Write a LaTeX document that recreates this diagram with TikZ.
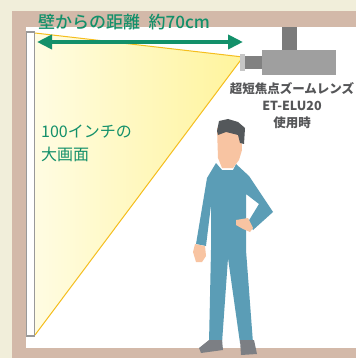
\documentclass[tikz,border=0pt]{standalone}
\usepackage{fontspec}
\usepackage{tikz}
\usetikzlibrary{positioning,arrows.meta}
\newfontfamily\jpfont{Noto Sans CJK JP}
\newfontfamily\jpmed{Noto Sans CJK JP Medium}
\definecolor{crema}{HTML}{F1EEDA}
\definecolor{muro}{HTML}{D3B9A9}
\definecolor{verde}{HTML}{13906A}
\definecolor{gristxt}{HTML}{555658}
\definecolor{luzA}{HTML}{FFFCE2}
\definecolor{luzB}{HTML}{FFF49C}
\definecolor{borde}{HTML}{F5BE1E}
\definecolor{traje}{HTML}{5B9DB6}
\definecolor{piel}{HTML}{F8C4A2}
\definecolor{pelo}{HTML}{54585B}
\definecolor{zapato}{HTML}{7C7F84}

\begin{document}
\begin{tikzpicture}[
    x=1pt, y=-1pt,
    >={Triangle[length=15pt, width=14pt]},
    txt/.style={inner sep=0pt, font=\jpfont},
    tit/.style={inner sep=0pt, anchor=west, font=\jpmed\fontsize{17}{20}\selectfont},
    pieza/.style={fill=#1, draw=none},
  ]
    \useasboundingbox (0,0) rectangle (356,358);
    % room: wall, ceiling and floor
    \fill[crema] (0,0) rectangle (356,358);
    \fill[muro] (12,11) rectangle (356,358);
    \fill[white] (26,27) rectangle (356,348);

    % light beam from the lens to the screen
    \coordinate (lente) at (243,57);
    \coordinate (sup) at (35,33);
    \coordinate (inf) at (35,335);
    \shade[left color=luzA, right color=luzB] (lente) -- (sup) -- (inf) -- cycle;
    \draw[borde, line width=1pt] (sup) -- (lente) -- (inf);

    % screen
    \draw[fill=white, draw=gray!80, line width=1.2pt] (26.6,32) rectangle (34.6,336);

    % distance arrow
    \coordinate (pared) at (37,42);
    \coordinate (proy) at (243,42);
    \draw[<->, verde, line width=4pt] (pared) -- (proy);
    \node[tit, text=verde] (dist) at (38,22) {壁からの距離\hspace{0.5em}約70cm};
    \node[txt, text=verde, anchor=north west, align=left, font=\jpfont\fontsize{16}{23}\selectfont] (tam) at (41,125)
      {100インチの\\大画面};

    % projector hanging from the ceiling
    \fill[pieza=gray!85!black!90] (282,27) rectangle (297,50);
    \fill[pieza=gray!75] (262,50) rectangle (336,75);
    \fill[pieza=gray!90!black!90] (245,56) rectangle (262,69);
    \fill[pieza=gray!45] (240,54) rectangle (245,71);
    \node[txt, text=gristxt, align=center, font=\jpfont\bfseries\fontsize{12.5}{17}\selectfont] (lens) at (292,106)
      {超短焦点ズームレンズ\\ET-ELU20\\使用時};

    % person standing in the room
    \fill[traje] (216,163) -- (222,170) -- (233,170) -- (236,164) -- (249,176)
      -- (273,212) -- (253,230) -- (248,222) -- (259,204) -- (246,194)
      -- (246,250) -- (253,343) -- (240,343) -- (228,258) -- (222,343)
      -- (209,343) -- (211,250) -- (211,205) -- (206,246) -- (196,244)
      -- (207,178) -- cycle;
    \fill[piel] (217,128) -- (241,127) -- (242,150) -- (239,160) -- (233,168)
      -- (222,168) -- (218,158) -- cycle;
    \fill[pelo] (217,131) -- (219,121) -- (228,119) -- (238,122) -- (245,128)
      -- (244,144) -- (240,143) -- (238,135) -- (226,132) -- (218,135) -- cycle;
    \fill[piel] (236,220) -- (248,218) -- (253,228) -- (250,232) -- (243,229) -- (236,225) -- cycle;
    \fill[piel] (195,244) -- (205,246) -- (206,256) -- (202,262) -- (196,262) -- (193,252) -- cycle;
    \fill[zapato] (209,340) -- (222,340) -- (223,350) -- (201,353) -- (199,348) -- cycle;
    \fill[zapato] (240,340) -- (254,340) -- (257,354) -- (241,355) -- cycle;
  \end{tikzpicture}
\end{document}
